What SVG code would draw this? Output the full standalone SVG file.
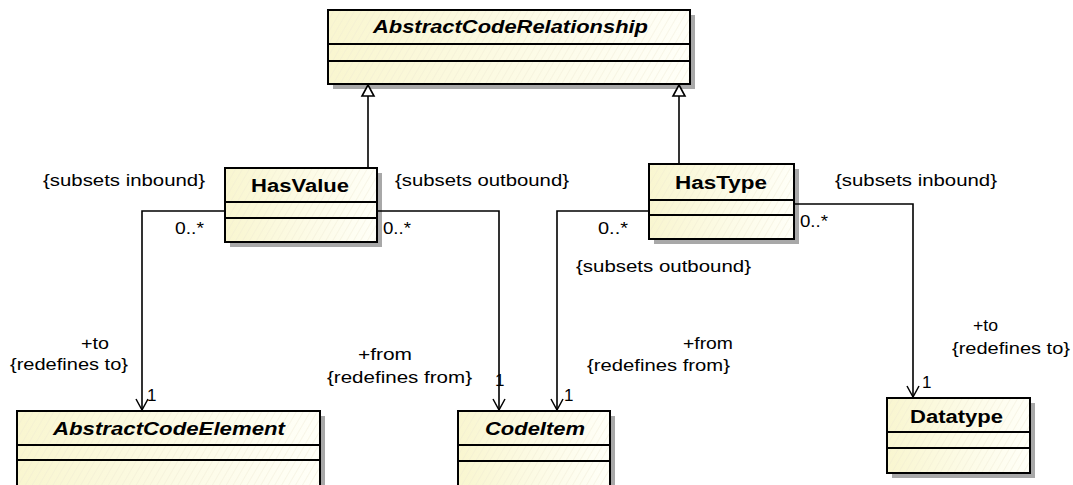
<svg xmlns="http://www.w3.org/2000/svg" width="1073" height="485" viewBox="0 0 1073 485">
<defs>
<linearGradient id="fillg" x1="0" y1="0" x2="1" y2="0">
<stop offset="0" stop-color="#F9F6D0"/>
<stop offset="1" stop-color="#FFFFF8"/>
</linearGradient>
<pattern id="hatch" width="6" height="6" patternUnits="userSpaceOnUse" patternTransform="rotate(30)">
<line x1="0" y1="0" x2="0" y2="6" stroke="#EDEAD2" stroke-width="0.8"/>
</pattern>
<marker id="open" markerWidth="14" markerHeight="14" refX="12" refY="7" orient="auto" markerUnits="userSpaceOnUse">
<path d="M1,1 L12,7 L1,13" fill="none" stroke="#000" stroke-width="1.5"/>
</marker>
</defs>
<style>
.shadow{fill:#A8A8A8}
.box{fill:url(#fillg);stroke:none}
.hat{fill:url(#hatch)}
.border{fill:none;stroke:#000;stroke-width:2}
.div{stroke:#000;stroke-width:2}
.title{font-family:"Liberation Sans",Arial,sans-serif;font-weight:bold;font-size:18px;fill:#000}
.ital{font-style:italic}
.lbl{font-family:"Liberation Sans",Arial,sans-serif;font-size:17px;fill:#000}
.conn{fill:none;stroke:#000;stroke-width:1.6}
.gen{fill:#fff;stroke:#000;stroke-width:1.6}
</style>

<g id="AbstractCodeRelationship">
<rect class="shadow" x="333" y="15" width="362" height="74"/>
<rect class="box" x="328" y="10" width="362" height="74"/>
<rect class="hat" x="328" y="10" width="362" height="74"/>
<rect class="border" x="328" y="10" width="362" height="74"/>
<line class="div" x1="328" y1="44" x2="690" y2="44"/>
<line class="div" x1="328" y1="61" x2="690" y2="61"/>
<text class="title ital" x="373" y="33" textLength="275" lengthAdjust="spacingAndGlyphs">AbstractCodeRelationship</text>
</g>

<g id="HasValue">
<rect class="shadow" x="230" y="173" width="152" height="74"/>
<rect class="box" x="225" y="168" width="152" height="74"/>
<rect class="hat" x="225" y="168" width="152" height="74"/>
<rect class="border" x="225" y="168" width="152" height="74"/>
<line class="div" x1="225" y1="202" x2="377" y2="202"/>
<line class="div" x1="225" y1="218" x2="377" y2="218"/>
<text class="title" x="251" y="192" textLength="98" lengthAdjust="spacingAndGlyphs">HasValue</text>
</g>

<g id="HasType">
<rect class="shadow" x="654" y="169" width="145" height="75"/>
<rect class="box" x="649" y="164" width="145" height="75"/>
<rect class="hat" x="649" y="164" width="145" height="75"/>
<rect class="border" x="649" y="164" width="145" height="75"/>
<line class="div" x1="649" y1="200" x2="794" y2="200"/>
<line class="div" x1="649" y1="215" x2="794" y2="215"/>
<text class="title" x="675" y="189" textLength="92" lengthAdjust="spacingAndGlyphs">HasType</text>
</g>

<g id="AbstractCodeElement">
<rect class="shadow" x="22" y="416" width="303" height="80"/>
<rect class="box" x="17" y="411" width="303" height="80"/>
<rect class="hat" x="17" y="411" width="303" height="80"/>
<rect class="border" x="17" y="411" width="303" height="80"/>
<line class="div" x1="17" y1="445" x2="320" y2="445"/>
<line class="div" x1="17" y1="460" x2="320" y2="460"/>
<text class="title ital" x="53" y="435" textLength="232" lengthAdjust="spacingAndGlyphs">AbstractCodeElement</text>
</g>

<g id="CodeItem">
<rect class="shadow" x="463" y="416" width="152" height="80"/>
<rect class="box" x="458" y="411" width="152" height="80"/>
<rect class="hat" x="458" y="411" width="152" height="80"/>
<rect class="border" x="458" y="411" width="152" height="80"/>
<line class="div" x1="458" y1="445" x2="610" y2="445"/>
<line class="div" x1="458" y1="461" x2="610" y2="461"/>
<text class="title ital" x="485" y="435" textLength="100" lengthAdjust="spacingAndGlyphs">CodeItem</text>
</g>

<g id="Datatype">
<rect class="shadow" x="892" y="403" width="143" height="75"/>
<rect class="box" x="887" y="398" width="143" height="75"/>
<rect class="hat" x="887" y="398" width="143" height="75"/>
<rect class="border" x="887" y="398" width="143" height="75"/>
<line class="div" x1="887" y1="432" x2="1030" y2="432"/>
<line class="div" x1="887" y1="448" x2="1030" y2="448"/>
<text class="title" x="910" y="423" textLength="93" lengthAdjust="spacingAndGlyphs">Datatype</text>
</g>

<g id="connectors">
<line class="conn" x1="368" y1="168" x2="368" y2="96"/>
<path class="gen" d="M368,85 L374,96 L362,96 Z"/>
<line class="conn" x1="679" y1="164" x2="679" y2="96"/>
<path class="gen" d="M679,85 L685,96 L673,96 Z"/>
<path class="conn" d="M225,211 H142 V410" marker-end="url(#open)"/>
<path class="conn" d="M377,211 H499 V410" marker-end="url(#open)"/>
<path class="conn" d="M649,211 H557 V410" marker-end="url(#open)"/>
<path class="conn" d="M794,204 H913 V397" marker-end="url(#open)"/>
</g>

<g id="labels">
<text class="lbl" x="43" y="186" textLength="162" lengthAdjust="spacingAndGlyphs">{subsets inbound}</text>
<text class="lbl" x="395" y="186" textLength="174" lengthAdjust="spacingAndGlyphs">{subsets outbound}</text>
<text class="lbl" x="576" y="272" textLength="175" lengthAdjust="spacingAndGlyphs">{subsets outbound}</text>
<text class="lbl" x="835" y="186" textLength="162" lengthAdjust="spacingAndGlyphs">{subsets inbound}</text>
<text class="lbl" x="175" y="234" textLength="29" lengthAdjust="spacingAndGlyphs">0..*</text>
<text class="lbl" x="383" y="234" textLength="28" lengthAdjust="spacingAndGlyphs">0..*</text>
<text class="lbl" x="598" y="234" textLength="30" lengthAdjust="spacingAndGlyphs">0..*</text>
<text class="lbl" x="800" y="227" textLength="28" lengthAdjust="spacingAndGlyphs">0..*</text>
<text class="lbl" x="81" y="349" textLength="28" lengthAdjust="spacingAndGlyphs">+to</text>
<text class="lbl" x="10" y="370" textLength="118" lengthAdjust="spacingAndGlyphs">{redefines to}</text>
<text class="lbl" x="358" y="360" textLength="54" lengthAdjust="spacingAndGlyphs">+from</text>
<text class="lbl" x="327" y="383" textLength="145" lengthAdjust="spacingAndGlyphs">{redefines from}</text>
<text class="lbl" x="683" y="349" textLength="50" lengthAdjust="spacingAndGlyphs">+from</text>
<text class="lbl" x="587" y="371" textLength="143" lengthAdjust="spacingAndGlyphs">{redefines from}</text>
<text class="lbl" x="973" y="331" textLength="25" lengthAdjust="spacingAndGlyphs">+to</text>
<text class="lbl" x="952" y="354" textLength="118" lengthAdjust="spacingAndGlyphs">{redefines to}</text>
<text class="lbl" x="147" y="401">1</text>
<text class="lbl" x="495" y="386">1</text>
<text class="lbl" x="564" y="401">1</text>
<text class="lbl" x="922" y="388">1</text>
</g>
</svg>
